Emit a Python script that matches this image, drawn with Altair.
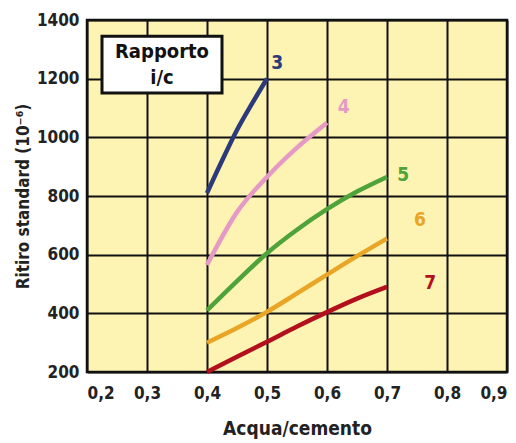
import altair as alt
import pandas as pd

# --- data ---
series_names = ["3", "4", "5", "6", "7"]
colors = ["#2c3a7a", "#e59ac6", "#4ea33a", "#e8a526", "#b3101e"]

x3 = [0.40, 0.425, 0.45, 0.475, 0.50]
y3 = [810, 920, 1025, 1115, 1200]
x4 = [0.40, 0.45, 0.50, 0.55, 0.60]
y4 = [565, 745, 865, 965, 1050]
x5 = [0.40, 0.45, 0.50, 0.55, 0.60, 0.65, 0.70]
y5 = [410, 510, 605, 685, 755, 815, 865]
x6 = [0.40, 0.45, 0.50, 0.55, 0.60, 0.65, 0.70]
y6 = [300, 350, 405, 468, 532, 595, 655]
x7 = [0.40, 0.45, 0.50, 0.55, 0.60, 0.65, 0.70]
y7 = [200, 252, 303, 355, 404, 450, 490]

label_x = [0.517, 0.628, 0.727, 0.755, 0.772]
label_y = [1253, 1103, 872, 718, 503]

x_ticks = [0.2, 0.3, 0.4, 0.5, 0.6, 0.7, 0.8, 0.9]
y_ticks = [200, 400, 600, 800, 1000, 1200, 1400]

legend_title = ["Rapporto", "i/c"]

rows = []
for name, xs, ys in zip(series_names, [x3, x4, x5, x6, x7], [y3, y4, y5, y6, y7]):
    for i, (a, b) in enumerate(zip(xs, ys)):
        rows.append({"serie": name, "x": a, "y": b, "o": i})
lines_df = pd.DataFrame(rows)
labels_df = pd.DataFrame({"serie": series_names, "x": label_x, "y": label_y})

FONT = "DejaVu Sans Condensed"

xscale = alt.Scale(domain=[0.2, 0.9], nice=False)
yscale = alt.Scale(domain=[200, 1400], nice=False)
cscale = alt.Scale(domain=series_names, range=colors)

xaxis = alt.Axis(values=x_ticks, labelExpr="replace(format(datum.value, '.1f'), '.', ',')",
                 title="Acqua/cemento", grid=True, gridColor="#111111", gridWidth=2,
                 domain=False, ticks=False, labelPadding=13, labelFontSize=17,
                 labelFont=FONT, labelFontWeight="bold", labelColor="#222222",
                 titleFont=FONT, titleFontSize=19, titleFontWeight="bold",
                 titleColor="#222222", titlePadding=18)
yaxis = alt.Axis(values=y_ticks, format="d", title="Ritiro standard (10⁻⁶)", grid=True,
                 gridColor="#111111", gridWidth=2, domain=False, ticks=False,
                 labelPadding=8, labelFontSize=17, labelFont=FONT, labelFontWeight="bold",
                 labelColor="#222222", titleFont=FONT, titleFontSize=17,
                 titleFontWeight="bold", titleColor="#222222", titlePadding=4)

base_grid = alt.Chart(pd.DataFrame({"x": [0.2], "y": [200]})).mark_point(opacity=0).encode(
    x=alt.X("x:Q", scale=xscale, axis=xaxis),
    y=alt.Y("y:Q", scale=yscale, axis=yaxis),
)

lines = alt.Chart(lines_df).mark_line(strokeWidth=4.5, interpolate="monotone").encode(
    x=alt.X("x:Q", scale=xscale),
    y=alt.Y("y:Q", scale=yscale),
    color=alt.Color("serie:N", scale=cscale, legend=None),
    order="o:Q",
    detail="serie:N",
)

labels = alt.Chart(labels_df).mark_text(fontSize=19, fontWeight="bold", font=FONT,
                                        align="center", baseline="middle").encode(
    x=alt.X("x:Q", scale=xscale),
    y=alt.Y("y:Q", scale=yscale),
    text="serie:N",
    color=alt.Color("serie:N", scale=cscale, legend=None),
)

box_df = pd.DataFrame({"x": [0.225], "x2": [0.425], "y": [1151], "y2": [1345]})
box = alt.Chart(box_df).mark_rect(fill="white", stroke="#111111", strokeWidth=3).encode(
    x=alt.X("x:Q", scale=xscale), x2="x2:Q",
    y=alt.Y("y:Q", scale=yscale), y2="y2:Q",
)
box_text_df = pd.DataFrame({"x": [0.325, 0.325], "y": [1290, 1203], "t": legend_title})
box_text = alt.Chart(box_text_df).mark_text(fontSize=20, fontWeight="bold", font=FONT,
                                            color="#111111", align="center",
                                            baseline="middle").encode(
    x=alt.X("x:Q", scale=xscale),
    y=alt.Y("y:Q", scale=yscale),
    text="t:N",
)

chart = alt.layer(base_grid, lines, labels, box, box_text).properties(
    width=420, height=352,
    autosize=alt.AutoSizeParams(type="none"),
    padding={"left": 87, "top": 20, "right": 9, "bottom": 71},
    background="white",
).configure_view(fill="#fdf3b3", stroke="#111111", strokeWidth=2.5)

chart.save("out.html", embed_options={"renderer": "svg", "actions": False})
